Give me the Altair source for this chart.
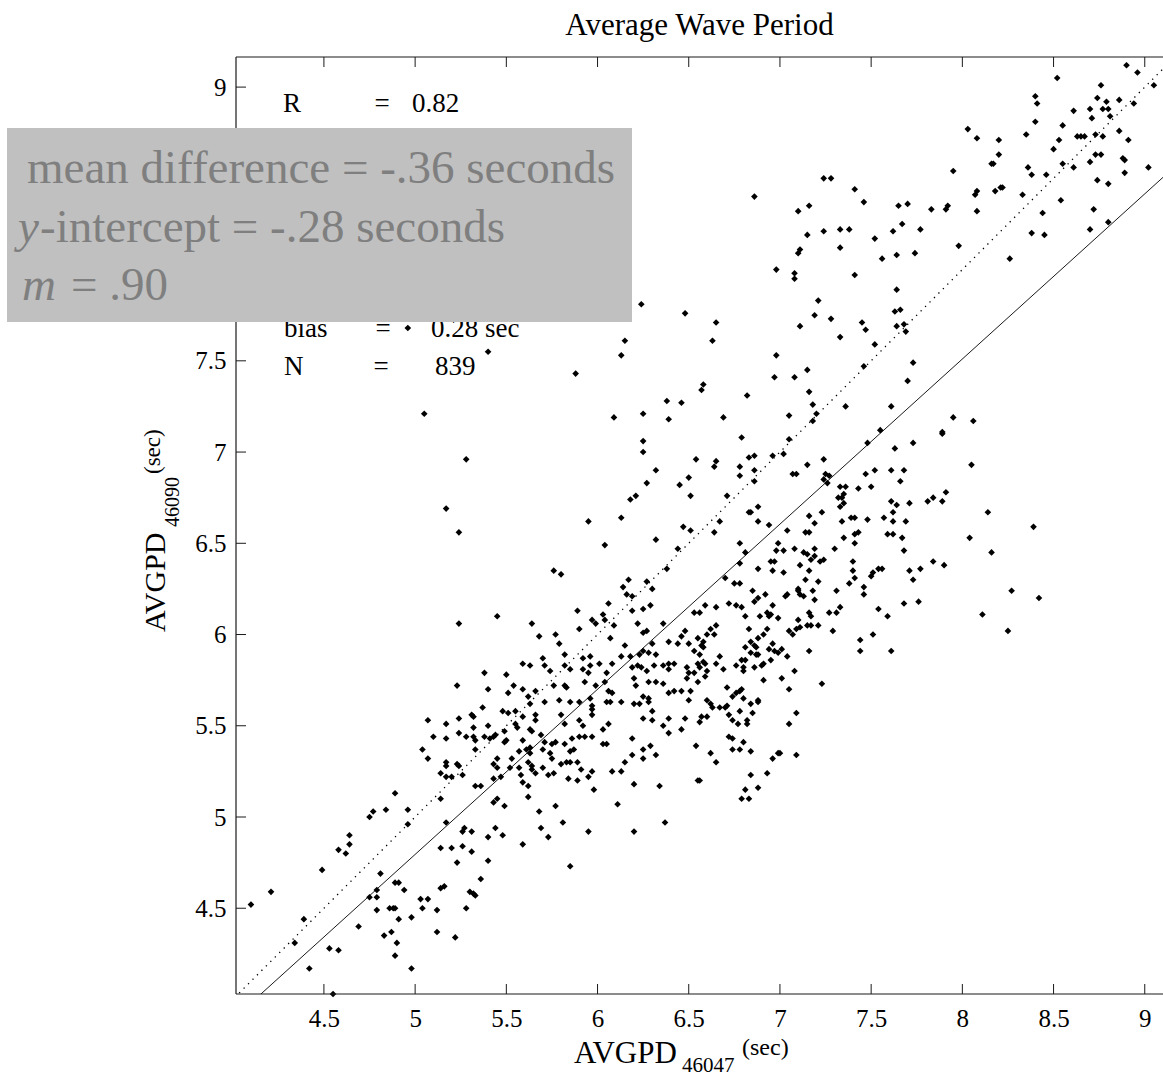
import altair as alt
import pandas as pd

TITLE = "Average Wave Period"
x_tick_values = [4.5, 5, 5.5, 6, 6.5, 7, 7.5, 8, 8.5, 9]
y_tick_values = [4.5, 5, 5.5, 6, 6.5, 7, 7.5, 8, 8.5, 9]
# labels 8 and 8.5 sit under the grey box in the reference, so only these show
y_label_values = [4.5, 5, 5.5, 6, 6.5, 7, 7.5, 9]
x_domain = [4.018, 9.10]
y_domain = [4.03, 9.165]
fit_slope = 0.905
fit_intercept = 0.27

# (AVGPD 46047, AVGPD 46090) pairs, by region
pts_upper_right = [
    (8.90, 9.12), (8.96, 9.08), (8.52, 9.05), (9.05, 9.01), (8.76, 9.01), (8.40, 8.95), (8.41, 8.91),
    (8.74, 8.94), (8.79, 8.92), (8.86, 8.93), (8.94, 8.91), (8.61, 8.87), (8.70, 8.88), (8.77, 8.88),
    (8.80, 8.88), (8.81, 8.84), (8.71, 8.83), (8.40, 8.81), (8.55, 8.79), (8.86, 8.76), (8.03, 8.77),
    (8.35, 8.74), (8.63, 8.73), (8.65, 8.73), (8.67, 8.73), (8.73, 8.74), (8.77, 8.73), (8.08, 8.72),
    (8.20, 8.71), (8.53, 8.71), (8.91, 8.71), (8.50, 8.66), (8.20, 8.63), (8.73, 8.63), (8.76, 8.63),
    (8.88, 8.61), (8.89, 8.60), (8.16, 8.58), (8.17, 8.58), (8.55, 8.58), (8.70, 8.59), (8.61, 8.56),
    (9.02, 8.56), (8.36, 8.56), (7.95, 8.54), (8.38, 8.52), (8.46, 8.52), (8.89, 8.53), (8.74, 8.49),
    (8.80, 8.47), (8.21, 8.45), (8.22, 8.45), (8.18, 8.43), (8.08, 8.43), (8.07, 8.41), (8.33, 8.41),
    (8.54, 8.38), (7.41, 8.44), (7.24, 8.50), (7.28, 8.50), (6.86, 8.40), (7.10, 8.32), (7.16, 8.35),
    (7.46, 8.37), (7.65, 8.35), (7.70, 8.36), (7.83, 8.33), (7.92, 8.35), (7.91, 8.33), (8.08, 8.32),
    (8.44, 8.31), (8.72, 8.33), (7.67, 8.25), (8.80, 8.26), (7.24, 8.21), (7.33, 8.22), (7.38, 8.22),
    (7.62, 8.21), (7.77, 8.22), (7.15, 8.19), (7.52, 8.17), (8.38, 8.20), (8.45, 8.19), (8.70, 8.22),
    (7.11, 8.11), (7.10, 8.09), (7.33, 8.12), (7.56, 8.06), (7.64, 8.08), (7.74, 8.09), (7.98, 8.13),
    (8.26, 8.06), (6.98, 8.00), (7.08, 7.98), (7.08, 7.95), (7.41, 7.97), (7.64, 7.89), (7.21, 7.83),
    (7.63, 7.77), (7.66, 7.78), (7.19, 7.75), (7.28, 7.73), (7.11, 7.69), (7.45, 7.71), (7.47, 7.67),
    (7.64, 7.69), (7.68, 7.70), (7.69, 7.66), (7.33, 7.63), (7.52, 7.59), (6.65, 7.71), (6.63, 7.61),
    (6.98, 7.53), (7.46, 7.47), (7.73, 7.49), (6.97, 7.41), (7.08, 7.41), (7.15, 7.45), (7.70, 7.39),
    (6.58, 7.37), (6.57, 7.34), (6.82, 7.31), (7.16, 7.33), (7.18, 7.26), (7.20, 7.21), (7.18, 7.17),
    (7.36, 7.25), (7.61, 7.25), (6.69, 7.19), (7.05, 7.20), (7.95, 7.19), (8.06, 7.17), (7.55, 7.12),
    (7.89, 7.11), (7.89, 7.10), (6.79, 7.08), (7.05, 7.07), (7.48, 7.05), (7.73, 7.05), (7.63, 7.02),
    (6.65, 6.95), (6.64, 6.92), (6.83, 6.97), (6.86, 6.98), (6.96, 6.98), (7.02, 6.99), (6.78, 6.92),
    (7.15, 6.93), (7.24, 6.96), (8.05, 6.93), (6.78, 6.87), (6.86, 6.90), (6.86, 6.84), (7.07, 6.88),
    (7.09, 6.88), (7.25, 6.88), (7.27, 6.87), (7.24, 6.85), (7.26, 6.83), (7.47, 6.88), (7.52, 6.90),
    (7.61, 6.90), (7.68, 6.90), (7.66, 6.84), (7.33, 6.81), (7.36, 6.81), (7.43, 6.80), (7.50, 6.81),
    (7.35, 6.77), (7.32, 6.75), (7.34, 6.75), (7.35, 6.72), (7.33, 6.70), (6.71, 6.76), (7.91, 6.78),
    (7.84, 6.75), (7.81, 6.73), (7.89, 6.73), (7.61, 6.73), (7.64, 6.71), (7.71, 6.72), (6.88, 6.70),
    (6.83, 6.67), (6.84, 6.67), (7.23, 6.67), (7.62, 6.67), (8.14, 6.67), (6.67, 6.62), (6.88, 6.62),
    (6.94, 6.60), (7.16, 6.65), (7.19, 6.61), (7.34, 6.62), (7.39, 6.64), (7.41, 6.64), (7.48, 6.63),
    (7.57, 6.64), (7.62, 6.62), (7.69, 6.62), (8.39, 6.59),
]

pts_lower_right = [
    (6.64, 6.56), (7.04, 6.57), (7.14, 6.56), (7.16, 6.56), (7.35, 6.53), (7.41, 6.55), (7.43, 6.56),
    (7.59, 6.55), (7.62, 6.55), (7.67, 6.53), (8.04, 6.53), (6.78, 6.50), (6.99, 6.50), (7.41, 6.50),
    (6.81, 6.45), (6.98, 6.46), (7.02, 6.46), (7.08, 6.47), (7.13, 6.45), (7.15, 6.44), (7.19, 6.47),
    (7.19, 6.43), (7.30, 6.47), (7.68, 6.46), (8.16, 6.45), (7.17, 6.41), (7.22, 6.40), (7.24, 6.41),
    (6.95, 6.40), (6.97, 6.40), (7.40, 6.40), (7.84, 6.40), (7.90, 6.38), (6.78, 6.39), (7.11, 6.38),
    (6.88, 6.36), (6.96, 6.35), (7.02, 6.34), (7.16, 6.35), (7.40, 6.35), (7.50, 6.32), (7.51, 6.34),
    (7.54, 6.36), (7.56, 6.36), (7.71, 6.35), (7.77, 6.36), (6.70, 6.31), (6.75, 6.28), (6.78, 6.28),
    (7.14, 6.30), (7.21, 6.29), (7.41, 6.31), (7.38, 6.28), (7.73, 6.30), (6.85, 6.24), (6.92, 6.22),
    (6.88, 6.20), (6.86, 6.18), (7.03, 6.21), (7.04, 6.22), (7.10, 6.25), (7.10, 6.24), (7.11, 6.22),
    (7.13, 6.21), (7.18, 6.24), (7.19, 6.19), (7.31, 6.24), (7.46, 6.26), (7.46, 6.22), (8.27, 6.24),
    (8.42, 6.20), (6.59, 6.16), (6.65, 6.15), (6.72, 6.17), (6.76, 6.16), (6.79, 6.15), (6.96, 6.16),
    (6.93, 6.12), (6.95, 6.11), (6.99, 6.09), (6.94, 6.10), (6.89, 6.10), (6.81, 6.10), (7.16, 6.12),
    (7.17, 6.10), (7.27, 6.12), (7.31, 6.12), (7.33, 6.15), (7.54, 6.14), (7.59, 6.10), (7.68, 6.17),
    (7.76, 6.18), (8.11, 6.11), (6.56, 6.12), (6.83, 6.03), (6.93, 6.03), (7.10, 6.08), (7.09, 6.03),
    (7.11, 6.04), (7.15, 6.05), (7.17, 6.05), (7.21, 6.05), (7.05, 6.02), (7.07, 6.00), (7.29, 6.02),
    (7.51, 6.00), (8.25, 6.02), (6.65, 6.05), (6.62, 6.03), (6.60, 6.00), (6.64, 6.00), (6.58, 5.96),
    (6.57, 5.94), (6.58, 5.93), (6.81, 5.93), (6.84, 5.96), (6.86, 5.94), (6.87, 5.93), (6.88, 5.98),
    (6.91, 6.00), (6.94, 5.92), (6.96, 5.95), (6.97, 5.91), (6.99, 5.90), (7.01, 5.92), (6.84, 5.90),
    (6.87, 5.89), (6.88, 5.89), (7.16, 5.91), (7.44, 5.97), (7.44, 5.91), (7.61, 5.91), (6.56, 5.89),
    (6.58, 5.85), (6.59, 5.84), (6.65, 5.84), (6.67, 5.88), (6.76, 5.83), (6.79, 5.86), (6.80, 5.82),
    (6.80, 5.80), (6.81, 5.86), (6.86, 5.82), (6.90, 5.83), (6.91, 5.84), (6.95, 5.86), (7.04, 5.88),
    (6.56, 5.82), (6.60, 5.80), (6.59, 5.77), (6.69, 5.81), (7.01, 5.76), (7.08, 5.80), (6.91, 5.75),
    (7.23, 5.73), (7.05, 5.70), (6.71, 5.71), (6.76, 5.68), (6.78, 5.69), (6.79, 5.70), (6.74, 5.66),
    (6.80, 5.65), (6.88, 5.64), (6.88, 5.63), (6.84, 5.62), (6.60, 5.64), (6.62, 5.62), (6.63, 5.60),
    (6.67, 5.60), (6.70, 5.60), (6.71, 5.61), (6.57, 5.55), (6.56, 5.52), (6.60, 5.55), (6.72, 5.56),
    (6.74, 5.53), (6.77, 5.51), (6.78, 5.58), (6.82, 5.53), (6.82, 5.51), (6.85, 5.57), (7.09, 5.57),
    (7.05, 5.51), (6.72, 5.44), (6.74, 5.43), (6.80, 5.41), (6.74, 5.37), (6.78, 5.37), (6.84, 5.36),
    (6.62, 5.35), (6.65, 5.30), (6.96, 5.32), (6.99, 5.35), (7.00, 5.35), (7.09, 5.34), (6.93, 5.24),
    (6.84, 5.23), (6.81, 5.15), (6.88, 5.16), (6.79, 5.10), (6.83, 5.10), (6.56, 5.20),
]

pts_lower_left = [
    (5.79, 5.95), (6.15, 5.94), (6.30, 5.95), (6.39, 5.96), (6.44, 5.95), (6.50, 5.95), (6.53, 5.91),
    (5.70, 5.87), (5.82, 5.89), (5.92, 5.87), (5.96, 5.88), (6.01, 5.84), (6.08, 5.84), (6.13, 5.88),
    (6.18, 5.88), (6.23, 5.89), (6.25, 5.91), (6.28, 5.90), (6.32, 5.89), (6.39, 5.84), (6.42, 5.84),
    (5.59, 5.84), (5.63, 5.83), (5.71, 5.83), (5.74, 5.80), (5.82, 5.83), (5.85, 5.81), (5.92, 5.81),
    (5.95, 5.79), (5.96, 5.83), (6.05, 5.79), (6.19, 5.82), (6.22, 5.83), (6.24, 5.82), (6.27, 5.80),
    (6.31, 5.83), (6.36, 5.83), (6.39, 5.81), (6.49, 5.82), (6.50, 5.79), (6.55, 5.84), (5.38, 5.79),
    (5.50, 5.78), (5.23, 5.72), (5.40, 5.70), (5.54, 5.72), (5.59, 5.70), (5.66, 5.69), (5.76, 5.72),
    (5.82, 5.72), (5.83, 5.71), (5.93, 5.74), (5.99, 5.72), (6.04, 5.74), (6.06, 5.69), (6.08, 5.68),
    (6.20, 5.76), (6.21, 5.72), (6.28, 5.74), (6.32, 5.74), (6.36, 5.73), (6.39, 5.68), (6.42, 5.69),
    (6.46, 5.69), (6.51, 5.69), (6.55, 5.74), (6.49, 5.76), (6.53, 5.79), (5.51, 5.68), (5.62, 5.66),
    (5.63, 5.62), (5.71, 5.63), (5.79, 5.64), (5.85, 5.63), (5.90, 5.63), (5.96, 5.65), (5.97, 5.61),
    (6.05, 5.63), (6.07, 5.63), (6.13, 5.63), (6.20, 5.62), (6.23, 5.62), (6.28, 5.63), (6.30, 5.58),
    (6.25, 5.66), (6.28, 5.65), (6.50, 5.64), (5.07, 5.53), (5.17, 5.51), (5.24, 5.54), (5.31, 5.56),
    (5.32, 5.55), (5.37, 5.60), (5.48, 5.58), (5.51, 5.57), (5.55, 5.58), (5.59, 5.55), (5.66, 5.56),
    (5.66, 5.53), (5.80, 5.56), (5.82, 5.51), (5.90, 5.53), (5.92, 5.50), (5.97, 5.59), (5.97, 5.56),
    (6.03, 5.48), (6.06, 5.51), (6.25, 5.54), (6.30, 5.53), (6.36, 5.50), (6.39, 5.54), (6.48, 5.54),
    (6.46, 5.48), (6.39, 5.46), (5.04, 5.37), (5.07, 5.32), (5.10, 5.44), (5.17, 5.43), (5.24, 5.46),
    (5.28, 5.44), (5.32, 5.49), (5.33, 5.42), (5.32, 5.44), (5.33, 5.37), (5.38, 5.44), (5.40, 5.50),
    (5.41, 5.43), (5.43, 5.44), (5.44, 5.45), (5.49, 5.47), (5.50, 5.42), (5.55, 5.51), (5.56, 5.49),
    (5.59, 5.42), (5.63, 5.48), (5.64, 5.47), (5.69, 5.45), (5.71, 5.41), (5.75, 5.40), (5.77, 5.41),
    (5.82, 5.40), (5.85, 5.36), (5.86, 5.43), (5.90, 5.44), (5.93, 5.44), (5.97, 5.44), (6.03, 5.40),
    (6.05, 5.40), (6.19, 5.43), (6.25, 5.37), (6.29, 5.39), (6.32, 5.34), (6.25, 5.32), (6.19, 5.34),
    (6.15, 5.30), (6.08, 5.25), (6.13, 5.25), (6.54, 5.39), (5.14, 5.24), (5.17, 5.30), (5.17, 5.28),
    (5.17, 5.22), (5.20, 5.22), (5.23, 5.29), (5.24, 5.28), (5.26, 5.23), (5.33, 5.17), (5.36, 5.17),
    (5.43, 5.29), (5.45, 5.32), (5.43, 5.21), (5.45, 5.27), (5.47, 5.22), (5.49, 5.41), (5.52, 5.27),
    (5.53, 5.32), (5.57, 5.36), (5.57, 5.27), (5.58, 5.23), (5.59, 5.19), (5.61, 5.37), (5.62, 5.30),
    (5.63, 5.38), (5.63, 5.35), (5.64, 5.28), (5.64, 5.26), (5.62, 5.17), (5.66, 5.24), (5.70, 5.27),
    (5.73, 5.23), (5.75, 5.32), (5.76, 5.24), (5.80, 5.29), (5.83, 5.30), (5.85, 5.30), (5.84, 5.21),
    (5.89, 5.20), (5.89, 5.30), (5.95, 5.22), (5.97, 5.25), (5.98, 5.15), (5.91, 5.26), (5.87, 5.37),
    (5.70, 5.37), (5.74, 5.35), (6.20, 5.18), (6.34, 5.17), (6.55, 5.20), (4.89, 5.13), (5.14, 5.10),
    (5.17, 4.97), (5.27, 4.94), (5.26, 4.92), (5.31, 4.92), (5.43, 5.08), (5.45, 5.10), (5.49, 5.06),
    (5.62, 5.11), (5.68, 5.03), (5.77, 5.06), (5.81, 4.97), (6.11, 5.07), (6.20, 4.92), (6.37, 4.97),
    (4.75, 5.00), (4.77, 5.03), (4.84, 5.04), (4.96, 5.04), (4.96, 4.96), (5.40, 4.89), (5.44, 4.94),
    (5.48, 4.90), (5.59, 4.85), (5.69, 4.94), (5.73, 4.89), (5.95, 4.92), (4.64, 4.90), (4.64, 4.85),
    (4.58, 4.82), (4.62, 4.80), (5.14, 4.83), (5.20, 4.83), (5.26, 4.84), (5.31, 4.81), (5.23, 4.75),
    (5.40, 4.76), (5.85, 4.73), (4.49, 4.71), (4.81, 4.69), (4.21, 4.59), (4.10, 4.52), (4.75, 4.56),
    (4.79, 4.60), (4.79, 4.56), (4.89, 4.64), (4.91, 4.64), (4.94, 4.60), (5.03, 4.55), (5.07, 4.55),
    (5.14, 4.61), (5.16, 4.62), (5.30, 4.59), (5.32, 4.58), (5.33, 4.57), (5.36, 4.66), (4.39, 4.44),
    (4.34, 4.31), (4.53, 4.28), (4.58, 4.27), (4.42, 4.17), (4.69, 4.40), (4.79, 4.49), (4.86, 4.50),
    (4.88, 4.50), (4.89, 4.50), (4.91, 4.44), (4.83, 4.35), (4.87, 4.37), (4.90, 4.31), (4.89, 4.24),
    (4.98, 4.45), (4.98, 4.17), (5.04, 4.50), (5.12, 4.49), (5.12, 4.37), (5.22, 4.34), (5.28, 4.50),
    (4.55, 4.03),
]

pts_upper_left = [
    (6.24, 7.81), (6.48, 7.76), (4.96, 7.68), (5.40, 7.55), (6.15, 7.61), (6.13, 7.53), (5.88, 7.43),
    (5.05, 7.21), (5.28, 6.96), (5.17, 6.69), (5.24, 6.56), (6.09, 7.19), (6.25, 7.21), (6.38, 7.28),
    (6.46, 7.27), (6.39, 7.18), (6.25, 7.06), (6.25, 7.00), (6.32, 6.90), (6.27, 6.83), (6.54, 6.96),
    (6.50, 6.86), (6.45, 6.82), (6.51, 6.76), (6.18, 6.74), (6.21, 6.76), (6.13, 6.64), (5.95, 6.62),
    (6.32, 6.52), (6.04, 6.49), (6.47, 6.59), (6.51, 6.57), (6.44, 6.47), (6.38, 6.36), (5.76, 6.35),
    (5.80, 6.33), (6.17, 6.30), (6.14, 6.26), (6.16, 6.22), (6.19, 6.21), (6.27, 6.29), (6.30, 6.25),
    (5.89, 6.13), (6.06, 6.17), (6.03, 6.11), (6.04, 6.08), (5.97, 6.08), (5.99, 6.06), (6.09, 6.05),
    (6.19, 6.13), (6.25, 6.14), (6.29, 6.16), (6.22, 6.06), (6.25, 6.01), (6.27, 6.02), (5.24, 6.06),
    (5.45, 6.10), (5.64, 6.06), (5.68, 5.99), (5.77, 6.00), (5.90, 6.03), (6.07, 5.98), (6.36, 6.06),
    (6.48, 6.02), (6.53, 6.12), (6.46, 5.99), (6.55, 5.98),
]

pts = pts_upper_right + pts_lower_right + pts_lower_left + pts_upper_left
df = pd.DataFrame(pts, columns=["x", "y"])

W, H = 927, 937
SERIF = "Liberation Serif"
INK = "#1a1a1a"

xs = alt.Scale(domain=x_domain, nice=False, zero=False)
ys = alt.Scale(domain=y_domain, nice=False, zero=False)

x_axis = alt.Axis(values=x_tick_values, format="~g", title=None, grid=False, ticks=False,
                  domain=False, labelFont=SERIF, labelFontSize=25, labelColor="black",
                  labelPadding=12, labelOverlap=False, labelFlush=False)
y_axis = alt.Axis(values=y_label_values, format="~g", title=None, grid=False, ticks=False,
                  domain=False, labelFont=SERIF, labelFontSize=25, labelColor="black",
                  labelPadding=10, labelOverlap=False, labelFlush=False)


def X(field):
    return alt.X(field, type="quantitative", scale=xs, axis=x_axis)


def Y(field):
    return alt.Y(field, type="quantitative", scale=ys, axis=y_axis)


points = alt.Chart(df).mark_point(shape="diamond", filled=True, size=44, color="black",
                                  opacity=1).encode(x=X("x"), y=Y("y"))

line_x = [x_domain[0] - 0.3, x_domain[1] + 0.3]
ref_df = pd.DataFrame({"x": line_x, "y": line_x})
fit_df = pd.DataFrame({"x": line_x, "y": [fit_slope * v + fit_intercept for v in line_x]})

ref_line = alt.Chart(ref_df).mark_line(color="black", strokeWidth=1.3, strokeDash=[1.3, 5],
                                       clip=True).encode(x=X("x"), y=Y("y"))
fit_line = alt.Chart(fit_df).mark_line(color=INK, strokeWidth=1, clip=True).encode(
    x=X("x"), y=Y("y"))

xt = pd.DataFrame({"x": x_tick_values})
yt = pd.DataFrame({"y": y_tick_values})
TL = 10
bottom_ticks = alt.Chart(xt).mark_rule(color=INK).encode(
    x=X("x"), y=alt.value(H), y2=alt.value(H - TL))
top_ticks = alt.Chart(xt).mark_rule(color=INK).encode(
    x=X("x"), y=alt.value(0), y2=alt.value(TL))
left_ticks = alt.Chart(yt).mark_rule(color=INK).encode(
    y=Y("y"), x=alt.value(0), x2=alt.value(TL))

one = pd.DataFrame({"k": [0]})

frame = [
    alt.Chart(one).mark_rule(color=INK, strokeWidth=1.2).encode(
        x=alt.value(0), x2=alt.value(W), y=alt.value(0)),
    alt.Chart(one).mark_rule(color=INK, strokeWidth=1.2).encode(
        x=alt.value(0), x2=alt.value(W), y=alt.value(H)),
    alt.Chart(one).mark_rule(color=INK, strokeWidth=1.2).encode(
        x=alt.value(0), y=alt.value(0), y2=alt.value(H)),
]


def txt(s, x, y, size=26, color="black", align="left", baseline="alphabetic",
        style="normal", angle=0):
    return alt.Chart(one).mark_text(
        text=s, font=SERIF, fontSize=size, color=color, align=align,
        baseline=baseline, fontStyle=style, angle=angle).encode(
        x=alt.value(x), y=alt.value(y))


# statistics block inside the axes
stats = [
    txt("R", 47, 55, size=27), txt("=", 146, 55, size=27, align="center"),
    txt("0.82", 176, 55, size=27),
    txt("bias", 48, 280, size=27), txt("=", 147, 280, size=27, align="center"),
    txt("0.28 sec", 195, 280, size=27),
    txt("N", 48, 318, size=27), txt("=", 145, 318, size=27, align="center"),
    txt("839", 199, 318, size=27),
]

# grey overlay box
GREY_TXT = "#7f7f7f"
box = alt.Chart(one).mark_rect(color="#c0c0c0").encode(
    x=alt.value(-229), x2=alt.value(396), y=alt.value(71), y2=alt.value(265))
box_text = [
    txt("mean difference = -.36 seconds", -209, 126, size=47, color=GREY_TXT),
    txt("y", -218, 185, size=47, color=GREY_TXT, style="italic"),
    txt("-intercept = -.28 seconds", -196, 185, size=47, color=GREY_TXT),
    txt("m", -214, 243, size=47, color=GREY_TXT, style="italic"),
    txt("= .90", -165, 243, size=47, color=GREY_TXT),
]

# title and axis titles (with subscripts)
labels = [
    txt(TITLE, W / 2, -22, size=31, align="center"),
    txt("AVGPD", 338, 1006, size=31),
    txt("46047", 446, 1015, size=21),
    txt("(sec)", 506, 998, size=24),
    txt("AVGPD", -71, 575, size=30, angle=270),
    txt("46090", -57, 470, size=20, angle=270),
    txt("(sec)", -76, 417, size=23, angle=270),
]

chart = alt.layer(
    ref_line, fit_line, points,
    bottom_ticks, top_ticks, left_ticks, *frame,
    *stats, box, *box_text, *labels,
).properties(
    width=W, height=H,
    padding={"left": 236, "top": 57, "right": 0, "bottom": 82},
    autosize=alt.AutoSizeParams(type="none"),
    background="white",
).configure_view(stroke=None)

chart.save("out.html", embed_options={"renderer": "svg", "actions": False})
